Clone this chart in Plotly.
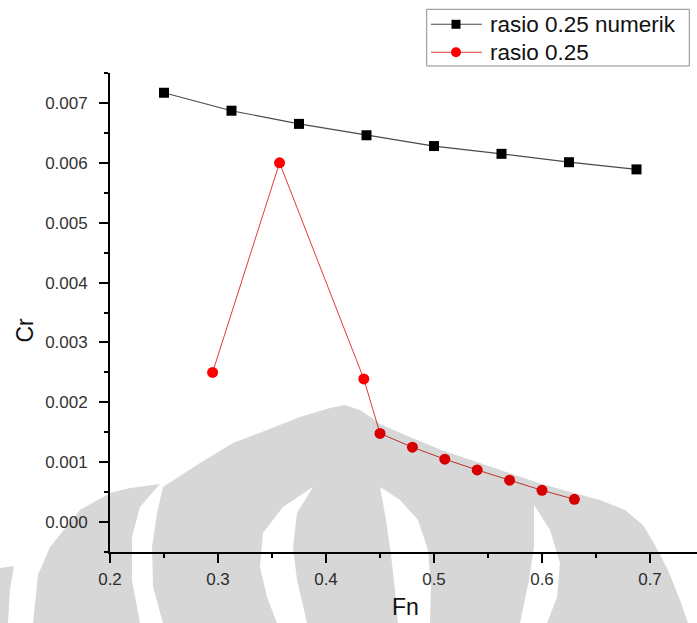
import plotly.graph_objects as go

# Froude number (Fn) vs residual resistance coefficient (Cr)
fn_numerik = [0.25, 0.3125, 0.375, 0.4375, 0.5, 0.5625, 0.625, 0.6875]
cr_numerik = [0.00717, 0.00687, 0.00665, 0.00646, 0.00628, 0.00615, 0.00601, 0.00589]

fn_uji = [0.295, 0.357, 0.435, 0.45, 0.48, 0.51, 0.54, 0.57, 0.60, 0.63]
cr_uji = [0.0025, 0.0060, 0.00239, 0.00148, 0.00125, 0.00105, 0.00087, 0.00070, 0.00053, 0.00038]

names = ["rasio 0.25 numerik", "rasio 0.25"]

W, H = 697, 623
ML, MR, MT, MB = 110, 0, 73, 71
PW, PH = W - ML - MR, H - MT - MB

FONT = "Liberation Sans, Arial, sans-serif"
BLACK_LINE = "#4a4a4a"
RED_LINE = "#e03a3a"
RED_MARK = "#ff0000"


def px(xp):
    return (xp - ML) / PW


def py(yp):
    return (H - MB - yp) / PH


def to_paper(pts):
    """Turn page pixel points into a closed SVG path in paper coordinates."""
    out = []
    for i, (a, b) in enumerate(pts):
        out.append(("M" if i == 0 else "L") + f"{px(a):.4f},{py(b):.4f}")
    return " ".join(out) + " Z"


# background emblem (grey arches along the bottom of the page)
dome = [(163, 487), (200, 463), (233, 443), (267, 430), (300, 417), (330, 408),
        (345, 405), (360, 410), (372, 418), (380, 424), (412, 438), (444, 451),
        (477, 462), (509, 473), (542, 484), (574, 493), (600, 500), (625, 510),
        (643, 525), (655, 545), (668, 570), (680, 600), (688, 623), (163, 623),
        (153, 587), (152, 547), (157, 513)]
hole1 = [(313, 487), (283, 507), (263, 533), (260, 567), (267, 597), (277, 623),
         (307, 623), (297, 580), (293, 547), (297, 513)]
hole2 = [(380, 487), (386, 520), (391, 555), (395, 590), (398, 623), (430, 623),
         (431, 585), (428, 550), (418, 520), (400, 500)]
hole3 = [(534, 505), (534, 547), (529, 580), (520, 623), (547, 623), (557, 597),
         (560, 563), (550, 530)]
blob = [(160, 484), (130, 488), (110, 493), (80, 510), (50, 547), (38, 575),
        (33, 623), (140, 623), (132, 580), (132, 537), (140, 507)]
strip = [(0, 568), (14, 566), (10, 590), (8, 623), (0, 623)]

emblem_path = " ".join(to_paper(p) for p in [dome, hole1, hole2, hole3])

fig = go.Figure()

fig.add_trace(go.Scatter(
    x=fn_numerik, y=cr_numerik, name=names[0], mode="lines+markers",
    line=dict(color=BLACK_LINE, width=1.2),
    marker=dict(symbol="square", size=10, color="#000000"),
))
fig.add_trace(go.Scatter(
    x=fn_uji, y=cr_uji, name=names[1], mode="lines+markers",
    line=dict(color=RED_LINE, width=1),
    marker=dict(symbol="circle", size=11, color=RED_MARK),
))

emblem_style = dict(xref="paper", yref="paper", fillcolor="black",
                    opacity=0.155, line=dict(width=0), layer="above")
shapes = [
    dict(type="path", path=emblem_path, fillrule="evenodd", **emblem_style),
    dict(type="path", path=to_paper(blob), **emblem_style),
    dict(type="path", path=to_paper(strip), **emblem_style),
]

# legend box with line + symbol samples
box_l, box_t, box_r, box_b = 426.7, 9.3, 689.3, 66.0
rows = [24.3, 52.3]
shapes.append(dict(type="rect", xref="paper", yref="paper",
                   x0=px(box_l), x1=px(box_r), y0=py(box_b), y1=py(box_t),
                   fillcolor="white", line=dict(color="#8c8c8c", width=1),
                   layer="above"))
annotations = []
for name, row, lc in zip(names, rows, [BLACK_LINE, RED_LINE]):
    shapes.append(dict(type="line", xref="paper", yref="paper",
                       x0=px(431), x1=px(482), y0=py(row), y1=py(row),
                       line=dict(color=lc, width=1.1), layer="above"))
    annotations.append(dict(text=name, xref="paper", yref="paper",
                            x=px(488), y=py(row + 0.5), xanchor="left",
                            yanchor="middle", showarrow=False,
                            font=dict(family=FONT, size=22.5, color="#111111")))
shapes.append(dict(type="rect", xref="paper", yref="paper",
                   x0=px(451.5), x1=px(460.5), y0=py(rows[0] + 4.5),
                   y1=py(rows[0] - 4.5), fillcolor="#000000",
                   line=dict(width=0), layer="above"))
shapes.append(dict(type="circle", xref="paper", yref="paper",
                   x0=px(451), x1=px(461), y0=py(rows[1] + 5),
                   y1=py(rows[1] - 5), fillcolor=RED_MARK,
                   line=dict(width=0), layer="above"))

axis_common = dict(
    showline=True, linecolor="#000000", linewidth=1.8,
    ticks="outside", ticklen=9, tickwidth=1.6, tickcolor="#000000",
    showgrid=False, zeroline=False,
    tickfont=dict(family=FONT, size=17, color="#333333"),
)
minor_common = dict(ticks="outside", ticklen=4, tickwidth=1.6,
                    tickcolor="#000000")

annotations += [
    dict(text="Fn", xref="paper", yref="paper",
         x=px(406), y=py(607), xanchor="center", yanchor="middle",
         showarrow=False, font=dict(family=FONT, size=23, color="#111111")),
    dict(text="Cr", xref="paper", yref="paper", textangle=-90,
         x=px(24.5), y=py(330), xanchor="center", yanchor="middle",
         showarrow=False, font=dict(family=FONT, size=23, color="#111111")),
]

fig.update_layout(
    width=W, height=H,
    margin=dict(l=ML, r=MR, t=MT, b=MB, autoexpand=False),
    paper_bgcolor="white", plot_bgcolor="white",
    font=dict(family=FONT, color="#111111"),
    showlegend=False,
    xaxis=dict(
        range=[0.2, 0.2 + PW / 1080.0], dtick=0.1, tick0=0.2, tickformat=".1f",
        minor=dict(dtick=0.05, tick0=0.2, **minor_common),
        ticklabelstandoff=2,
        **axis_common,
    ),
    yaxis=dict(
        range=[-0.0005, 0.0075], dtick=0.001, tick0=0, tickformat=".3f",
        minor=dict(dtick=0.0005, tick0=0, **minor_common),
        ticklabelstandoff=8,
        **axis_common,
    ),
    shapes=shapes,
    annotations=annotations,
)

fig.write_html("out.html")
